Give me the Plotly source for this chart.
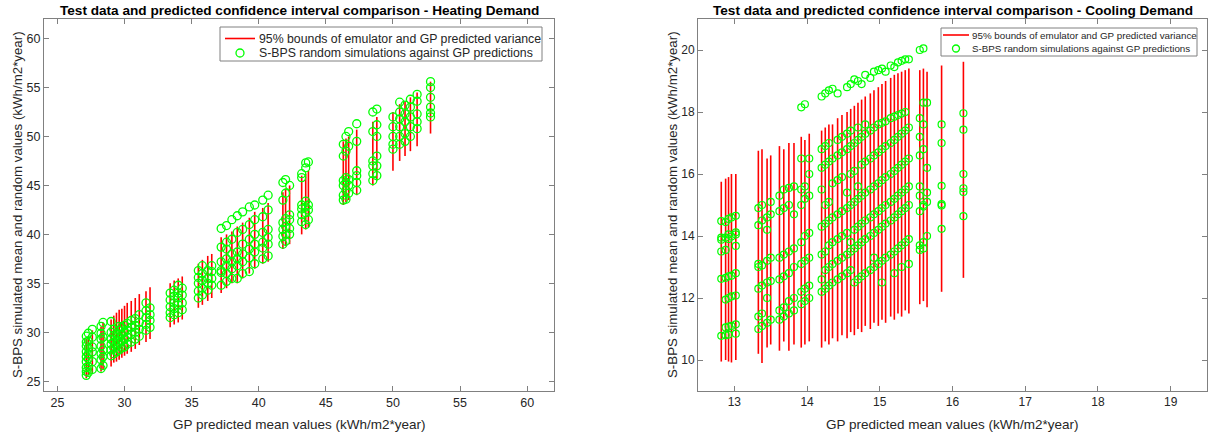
import plotly.graph_objects as go

# ---------------- Heating demand data ----------------
heat_x = [27.15, 27.3, 27.6, 28.25, 28.4, 29.0, 29.2, 29.4, 29.6, 29.8, 30.0, 30.2, 30.5, 30.8, 31.1,
          31.6, 31.9, 33.4, 33.7, 34.0, 34.3, 35.5, 35.8, 36.2, 36.5, 37.2, 37.6, 38.0, 38.4, 38.8,
          39.3, 39.7, 40.3, 40.7, 41.8, 42.0, 42.3, 43.2, 43.5, 43.7, 46.3, 46.5, 46.7, 47.3, 48.5,
          48.8, 50.0, 50.5, 50.9, 51.3, 51.8, 52.8]
heat_lo = [25.3, 25.6, 25.8, 26.0, 26.2, 26.5, 26.9, 27.0, 27.2, 27.4, 27.6, 27.8, 28.0, 28.3, 28.7,
           29.0, 29.3, 30.5, 30.8, 31.0, 31.3, 32.5, 32.8, 33.2, 33.5, 34.0, 34.5, 35.0, 35.0, 35.5,
           36.0, 36.5, 37.0, 37.2, 38.5, 38.8, 39.0, 40.0, 40.5, 40.7, 43.0, 43.3, 43.5, 44.0, 45.0,
           45.5, 46.5, 47.5, 48.0, 48.5, 49.0, 50.3]
heat_hi = [29.3, 29.6, 30.2, 30.6, 31.0, 31.3, 31.7, 32.0, 32.3, 32.4, 32.7, 33.0, 33.2, 33.5, 33.9,
           34.2, 34.6, 35.0, 35.3, 35.5, 35.7, 37.0, 37.4, 37.8, 38.0, 39.7, 40.0, 40.3, 40.8, 41.2,
           41.7, 42.3, 42.7, 43.2, 44.3, 44.7, 45.0, 46.0, 46.2, 46.5, 49.5, 49.8, 50.0, 50.7, 51.5,
           52.0, 52.5, 53.3, 53.6, 54.0, 54.5, 55.6]
heat_sims = [
    [25.6, 26.0, 26.4, 27.0, 27.5, 28.0, 28.6, 29.0, 29.6],
    [25.9, 26.5, 27.3, 27.8, 28.4, 29.1, 29.9],
    [26.2, 27.0, 28.0, 28.5, 29.5, 30.3],
    [26.3, 27.2, 27.8, 28.6, 29.3, 29.9, 30.6],
    [26.6, 27.5, 28.2, 29.5, 31.0],
    [27.6, 28.2, 28.8, 29.3, 30.0, 31.1],
    [27.8, 28.4, 29.0, 29.7, 30.3],
    [28.0, 28.6, 29.2, 29.8],
    [28.2, 28.9, 29.5, 30.2, 30.6],
    [28.4, 29.1, 29.8, 30.5],
    [28.5, 29.3, 30.0, 30.7],
    [28.8, 29.5, 30.2, 30.9],
    [29.0, 29.8, 30.5, 31.2],
    [29.3, 30.0, 30.7, 31.4],
    [29.6, 30.3, 31.0, 31.8],
    [30.2, 30.8, 31.5, 32.2, 33.0],
    [30.5, 31.2, 31.8, 32.5],
    [31.5, 32.0, 32.6, 33.3, 34.0],
    [31.8, 32.4, 33.0, 33.7, 34.3],
    [32.0, 32.8, 33.5, 34.0, 34.8],
    [32.3, 33.0, 33.8, 34.5],
    [33.5, 34.2, 35.0, 35.6, 36.3],
    [33.8, 34.5, 35.3, 36.0, 36.8],
    [34.3, 35.0, 35.5, 36.3],
    [34.8, 35.5, 36.2, 36.8],
    [34.8, 36.1, 36.3, 37.2, 38.7, 40.6],
    [35.2, 36.0, 36.8, 37.5, 38.5, 39.2, 40.9],
    [35.5, 36.5, 37.2, 38.0, 39.5, 41.5],
    [35.5, 36.8, 37.5, 38.2, 40.2, 41.9],
    [36.0, 37.2, 38.0, 39.0, 40.5, 42.3],
    [36.2, 37.6, 38.5, 39.5, 41.0, 42.8],
    [37.0, 38.2, 39.0, 40.0, 41.5, 43.0],
    [37.5, 38.6, 39.2, 40.2, 41.8, 43.5],
    [37.8, 39.0, 39.7, 40.5, 42.5, 44.0],
    [39.0, 39.8, 40.5, 41.2, 43.5, 45.3],
    [39.3, 40.0, 40.8, 41.6, 44.2, 45.6],
    [40.0, 40.6, 41.5, 42.0, 45.0],
    [41.3, 42.0, 42.6, 43.0, 45.8, 46.2],
    [41.0, 42.2, 42.8, 43.4, 46.8, 47.3],
    [41.5, 42.5, 43.0, 47.4],
    [43.5, 44.0, 45.0, 45.5, 48.0, 49.2],
    [43.6, 44.5, 45.3, 45.8, 48.5, 50.0],
    [44.2, 45.0, 45.6, 49.0, 50.5],
    [44.5, 45.3, 46.0, 46.5, 49.5, 51.3],
    [45.5, 46.2, 47.0, 47.5, 50.5, 52.5],
    [46.0, 47.0, 48.0, 50.0, 51.2, 52.8],
    [48.7, 49.2, 50.0, 51.0, 52.0],
    [49.2, 50.0, 51.0, 51.8, 52.5, 53.5],
    [49.5, 50.3, 51.5, 52.3, 53.2],
    [50.0, 51.0, 52.0, 53.0, 53.8],
    [50.8, 51.5, 52.3, 53.6, 54.3],
    [52.0, 52.4, 53.0, 54.0, 55.0, 55.6],
]

# ---------------- Cooling demand data ----------------
cool_x = [12.82, 12.88, 12.92, 12.96, 13.02, 13.33, 13.38, 13.45, 13.5, 13.62, 13.68, 13.75, 13.82,
          13.92, 13.97, 14.03, 14.2, 14.25, 14.3, 14.35, 14.42, 14.48, 14.55, 14.6, 14.65, 14.7,
          14.75, 14.8, 14.87, 14.92, 14.98, 15.03, 15.08, 15.15, 15.2, 15.25, 15.3, 15.35, 15.4,
          15.55, 15.6, 15.65, 15.85, 16.15]
cool_lo = [9.95, 10.0, 9.95, 9.92, 10.0, 10.2, 9.9, 10.4, 10.5, 10.3, 10.6, 10.3, 10.5,
           10.4, 10.5, 10.6, 10.4, 10.6, 10.5, 10.7, 10.6, 10.8, 10.7, 10.9, 10.8, 11.0,
           10.9, 11.1, 11.0, 11.2, 11.1, 11.3, 11.2, 11.4, 11.3, 11.5, 11.4, 11.6, 11.5,
           11.8, 11.9, 11.7, 12.2, 12.65]
cool_hi = [15.75, 15.85, 15.9, 16.0, 16.0, 16.75, 16.8, 16.5, 16.6, 16.9, 16.8, 17.0, 17.0,
           17.2, 17.1, 17.3, 17.4, 17.5, 17.6, 17.6, 17.8, 17.9, 18.0, 18.1, 18.2, 18.3,
           18.4, 18.5, 18.6, 18.7, 18.8, 18.9, 19.0, 19.1, 19.2, 19.25, 19.3, 19.35, 19.4,
           19.35, 19.4, 19.3, 19.5, 19.62]
cool_sims = [
    [10.78, 12.62, 13.5, 13.88, 13.95, 14.48],
    [10.8, 11.05, 11.95, 12.65, 13.55, 13.95, 14.45],
    [10.82, 11.08, 12.0, 12.7, 13.9, 14.05, 14.55],
    [11.1, 12.05, 12.72, 13.98, 14.6],
    [10.85, 11.15, 12.08, 12.8, 13.68, 14.05, 14.12, 14.65],
    [11.0, 11.4, 12.3, 13.0, 13.1, 14.35, 14.9],
    [11.1, 11.5, 12.4, 13.05, 14.5, 15.0],
    [11.2, 12.0, 12.5, 13.2, 14.2, 14.6],
    [11.3, 12.55, 13.3, 14.7, 15.1],
    [11.3, 11.6, 12.6, 13.3, 14.8, 15.3],
    [11.4, 11.7, 12.7, 13.4, 14.9, 15.5],
    [11.5, 11.9, 12.8, 13.5, 15.0, 15.55],
    [11.6, 12.0, 13.0, 13.6, 14.7, 15.6],
    [11.8, 12.2, 13.1, 13.8, 15.0, 15.5, 16.5, 18.15],
    [11.9, 12.3, 13.2, 14.0, 15.2, 15.6, 18.25],
    [12.0, 12.4, 13.3, 14.1, 15.3, 16.0, 16.5],
    [12.2, 12.6, 13.4, 14.3, 15.5, 16.2, 16.8, 18.5],
    [12.3, 12.9, 13.5, 14.4, 15.0, 16.3, 16.9, 18.6],
    [12.4, 13.0, 13.7, 14.5, 15.1, 16.4, 17.0, 18.7],
    [12.5, 13.1, 13.8, 14.6, 15.7, 16.5, 18.75],
    [12.6, 13.2, 13.9, 14.7, 15.8, 16.6, 17.1, 18.6],
    [12.7, 13.3, 14.0, 14.8, 15.9, 16.7, 17.2],
    [12.8, 13.4, 14.1, 14.9, 15.4, 16.8, 17.3, 18.8],
    [12.9, 13.5, 13.8, 15.0, 16.0, 16.9, 17.4, 18.9],
    [12.5, 13.6, 14.2, 15.1, 16.1, 17.0, 19.05],
    [12.6, 13.7, 14.3, 15.2, 15.6, 17.1, 17.5, 19.0],
    [12.7, 13.8, 14.4, 15.3, 16.3, 17.2, 18.9],
    [12.8, 13.9, 14.5, 15.4, 16.4, 17.3, 17.6, 19.2],
    [12.9, 14.0, 14.6, 15.5, 16.5, 17.4, 19.1],
    [13.0, 13.3, 14.1, 14.7, 15.6, 16.6, 17.5, 19.3],
    [13.1, 14.2, 14.8, 15.7, 16.7, 17.6, 19.35],
    [12.5, 13.2, 14.3, 14.9, 15.8, 16.8, 17.65, 19.4],
    [13.3, 14.4, 15.0, 15.9, 16.9, 17.7, 19.3],
    [13.4, 14.5, 15.1, 16.0, 17.0, 17.8, 19.5],
    [12.8, 13.5, 14.6, 15.2, 16.1, 17.1, 17.85, 19.45],
    [13.6, 14.7, 15.3, 16.2, 17.2, 17.9, 19.6],
    [13.0, 13.7, 14.8, 15.4, 16.3, 17.3, 17.95, 19.65],
    [13.8, 14.9, 15.5, 16.4, 17.4, 18.0, 19.7],
    [13.1, 13.9, 15.0, 15.6, 16.5, 17.5, 19.7],
    [13.55, 13.7, 14.8, 15.3, 15.6, 16.6, 17.2, 17.8, 20.0],
    [13.6, 13.8, 14.95, 15.0, 16.8, 17.6, 18.3, 20.05],
    [14.0, 15.1, 15.4, 16.2, 18.3],
    [14.23, 14.98, 15.03, 15.62, 17.0, 17.6],
    [14.64, 15.42, 15.54, 16.0, 17.43, 17.96],
]

legend_line = "95% bounds of emulator and GP predicted variance"
legend_marker = "S-BPS random simulations against GP predictions"
title_heat = "Test data and predicted confidence interval comparison - Heating Demand"
title_cool = "Test data and predicted confidence interval comparison - Cooling Demand"
x_title = "GP predicted mean values (kWh/m2*year)"
y_title = "S-BPS simulated mean and random values (kWh/m2*year)"

FONT = "Liberation Sans, Arial, sans-serif"
RED = "#ff0000"
GREEN = "#00ff00"
AX = "#808080"
TXT = "#262626"
W, H = 1209, 434


def segs(xs, lo, hi):
    X, Y = [], []
    for x, a, b in zip(xs, lo, hi):
        X += [x, x, None]
        Y += [a, b, None]
    return X, Y


def pts(xs, sims):
    X, Y = [], []
    for x, s in zip(xs, sims):
        for v in s:
            X.append(x)
            Y.append(v)
    return X, Y


def PX(x):
    return x / W


def PY(y):
    return (H - y) / H


fig = go.Figure()

hx, hy = segs(heat_x, heat_lo, heat_hi)
fig.add_trace(go.Scatter(x=hx, y=hy, mode="lines", line=dict(color=RED, width=1.6),
                         name=legend_line, xaxis="x", yaxis="y", showlegend=False))
px_, py_ = pts(heat_x, heat_sims)
fig.add_trace(go.Scatter(x=px_, y=py_, mode="markers",
                         marker=dict(symbol="circle-open", size=8, color=GREEN, line=dict(width=1.3, color=GREEN)),
                         name=legend_marker, xaxis="x", yaxis="y", showlegend=False))

cx, cy = segs(cool_x, cool_lo, cool_hi)
fig.add_trace(go.Scatter(x=cx, y=cy, mode="lines", line=dict(color=RED, width=1.6),
                         name=legend_line, xaxis="x2", yaxis="y2", showlegend=False))
qx, qy = pts(cool_x, cool_sims)
fig.add_trace(go.Scatter(x=qx, y=qy, mode="markers",
                         marker=dict(symbol="circle-open", size=7, color=GREEN, line=dict(width=1.2, color=GREEN)),
                         name=legend_marker, xaxis="x2", yaxis="y2", showlegend=False))


def axis(domain, rng, dtick, anchor, size):
    return dict(domain=domain, range=rng, dtick=dtick, tick0=0, anchor=anchor,
                showgrid=False, zeroline=False, showline=True, linecolor=AX, linewidth=1,
                mirror="ticks", ticks="inside", ticklen=5, tickcolor=AX,
                tickfont=dict(family=FONT, size=size, color=TXT), automargin=False)


ydom = [PY(391), PY(19)]
fig.update_layout(
    width=W, height=H, margin=dict(l=0, r=0, t=0, b=0),
    paper_bgcolor="white", plot_bgcolor="white", showlegend=False,
    xaxis=axis([PX(44), PX(554)], [24, 62], 5, "y", 12.5),
    yaxis=axis(ydom, [24, 62], 5, "x", 12.5),
    xaxis2=axis([PX(698), PX(1207)], [12.5, 19.5], 1, "y2", 12),
    yaxis2=axis(ydom, [9, 21], 2, "x2", 12),
)

shapes = []
ann = []


def add_legend(box, row1, row2, line_x, mark_x, mark_d, text_x, fs):
    x0, y0, x1, y1 = box
    shapes.append(dict(type="rect", xref="paper", yref="paper", x0=PX(x0), x1=PX(x1), y0=PY(y1), y1=PY(y0),
                       line=dict(color=AX, width=1), fillcolor="white", layer="above"))
    shapes.append(dict(type="line", xref="paper", yref="paper", x0=PX(line_x[0]), x1=PX(line_x[1]),
                       y0=PY(row1), y1=PY(row1), line=dict(color=RED, width=1.6), layer="above"))
    r = mark_d / 2
    shapes.append(dict(type="circle", xref="paper", yref="paper", xsizemode="pixel", ysizemode="pixel",
                       xanchor=PX(mark_x), yanchor=PY(row2), x0=-r, x1=r, y0=-r, y1=r,
                       line=dict(color=GREEN, width=1.3), layer="above"))
    for y, t in [(row1, legend_line), (row2, legend_marker)]:
        ann.append(dict(text=t, x=PX(text_x), y=PY(y), xref="paper", yref="paper", showarrow=False,
                        xanchor="left", yanchor="middle", font=dict(family=FONT, size=fs, color=TXT)))


add_legend((220, 27, 542, 61), 38.5, 53, (225, 255), 240, 8, 257, 12.3)
add_legend((941, 28, 1197, 56), 35, 48.5, (943, 969), 956, 7, 970, 9.8)

for cxp, t in [((44 + 554) / 2, title_heat), ((698 + 1207) / 2, title_cool)]:
    ann.append(dict(text="<b>" + t + "</b>", x=PX(cxp), y=PY(10), xref="paper", yref="paper",
                    showarrow=False, xanchor="center", yanchor="middle",
                    font=dict(family=FONT, size=13.6, color="black")))
for cxp in [(44 + 554) / 2, (698 + 1207) / 2]:
    ann.append(dict(text=x_title, x=PX(cxp), y=PY(424), xref="paper", yref="paper",
                    showarrow=False, xanchor="center", yanchor="middle",
                    font=dict(family=FONT, size=13.5, color=TXT)))
for xp in [17, 672]:
    ann.append(dict(text=y_title, x=PX(xp), y=PY(205), xref="paper", yref="paper",
                    showarrow=False, xanchor="center", yanchor="middle", textangle=-90,
                    font=dict(family=FONT, size=13.3, color=TXT)))
fig.update_layout(annotations=ann, shapes=shapes)

fig.write_html("out.html")
